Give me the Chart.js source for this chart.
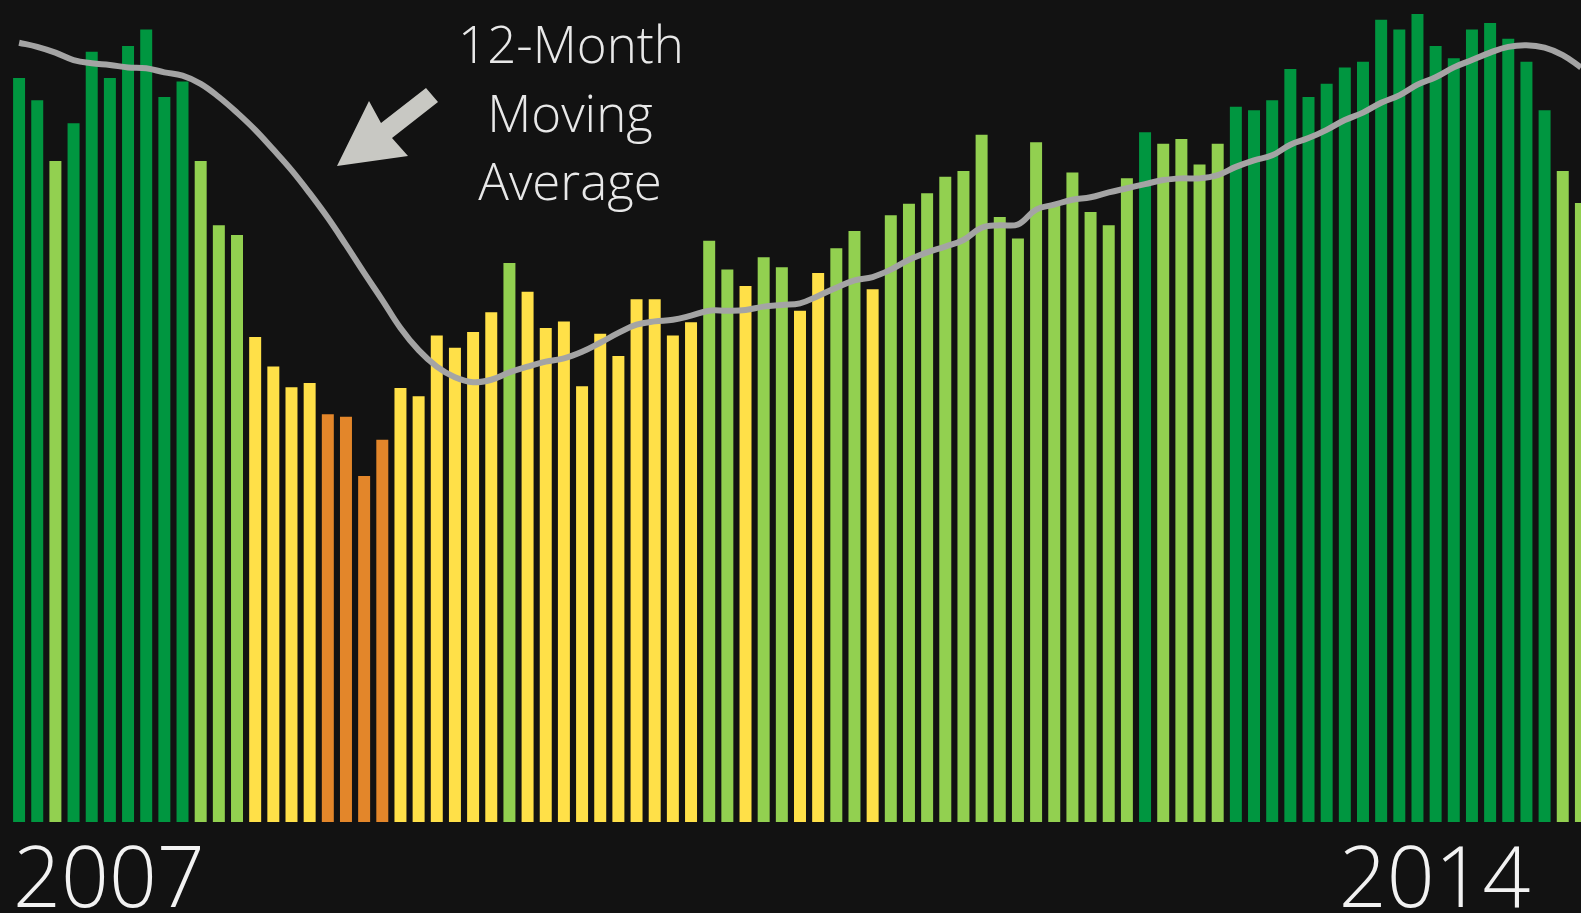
<!DOCTYPE html>
<html>
<head>
<meta charset="utf-8">
<script src="https://cdn.jsdelivr.net/npm/chart.js@4.4.1/dist/chart.umd.min.js"></script>
<style>
    html, body { margin: 0; padding: 0; background: #121212; overflow: hidden; }
    canvas { display: block; }
</style>
</head>
<body>
<canvas id="canvasDoThi" width="1600" height="913"></canvas>
<script>
// Du lieu (chi so hang thang, 0-100)
var barValues = [90.5, 87.8, 80.4, 85.0, 93.7, 90.5, 94.4, 96.4, 88.2, 90.1,
    80.4, 72.6, 71.4, 59.0, 55.4, 52.9, 53.4, 49.6, 49.3, 42.1,
    46.5, 52.8, 51.8, 59.2, 57.7, 59.6, 62.0, 68.0, 64.5, 60.1,
    60.9, 53.0, 59.4, 56.7, 63.6, 63.6, 59.2, 60.8, 70.7, 67.2,
    65.2, 68.7, 67.5, 62.2, 66.8, 69.8, 71.9, 64.8, 73.8, 75.2,
    76.5, 78.5, 79.2, 83.6, 73.6, 71.0, 82.7, 75.1, 79.0, 74.2,
    72.6, 78.3, 83.9, 82.5, 83.1, 80.0, 82.5, 87.0, 86.6, 87.8,
    91.6, 88.2, 89.8, 91.8, 92.5, 97.6, 96.4, 98.3, 94.4, 92.9,
    96.4, 97.2, 95.3, 92.5, 86.6, 79.2, 75.3];

var avgValues = [94.8, 94.3, 93.6, 92.7, 92.3, 92.1, 91.8, 91.7, 91.2, 90.8,
    89.8, 88.2, 86.3, 84.2, 81.8, 79.3, 76.5, 73.5, 70.2, 66.8,
    63.5, 60.1, 57.4, 55.4, 54.1, 53.5, 53.8, 54.7, 55.4, 56.0,
    56.4, 57.2, 58.3, 59.5, 60.5, 60.9, 61.1, 61.6, 62.2, 62.2,
    62.3, 62.7, 62.9, 63.1, 64.0, 65.0, 65.9, 66.3, 67.2, 68.4,
    69.3, 70.0, 70.8, 72.3, 72.6, 72.7, 74.5, 75.1, 75.7, 76.0,
    76.6, 77.1, 77.6, 78.1, 78.3, 78.3, 78.7, 79.7, 80.5, 81.1,
    82.4, 83.2, 84.2, 85.4, 86.3, 87.5, 88.4, 89.7, 90.6, 91.8,
    92.7, 93.6, 94.3, 94.5, 94.2, 93.3, 91.8];

var months = barValues.map(function (v, i) { return i + 1; });
var tickLabels = ['2007', '2014'];
var tickIndex = [5, 78];
var noteLines = ['12-Month', 'Moving', 'Average'];

// Nguong mau
var nguong = [83.75, 67.0, 50.5];
var mau = ['#009640', '#92d050', '#ffe048', '#e3862a'];

function MauCot(v) {
    for (var i = 0; i < nguong.length; i++) {
        if (v > nguong[i]) return mau[i];
    }
    return mau[3];
}

// Ghi chu + mui ten
var ghiChu = {
    id: 'ghiChu',
    afterDraw: function (chart) {
        var ctx = chart.ctx;
        ctx.save();
        ctx.fillStyle = '#e8e8e8';
        ctx.font = '300 51px "Open Sans"';
        ctx.textAlign = 'center';
        ctx.textBaseline = 'alphabetic';
        ctx.fillText(noteLines[0], 571, 63);
        ctx.fillText(noteLines[1], 570, 132);
        ctx.fillText(noteLines[2], 570, 200);

        ctx.fillStyle = '#c8c8c3';
        ctx.beginPath();
        ctx.moveTo(337, 166);
        ctx.lineTo(369, 101);
        ctx.lineTo(381, 123);
        ctx.lineTo(426, 88);
        ctx.lineTo(438, 102);
        ctx.lineTo(392, 138);
        ctx.lineTo(408, 156);
        ctx.closePath();
        ctx.fill();
        ctx.restore();
    }
};

function VeDoThi() {
    new Chart('canvasDoThi', {
        type: 'bar',
        data: {
            labels: months,
            datasets: [{
                type: 'line',
                data: avgValues,
                borderColor: '#a4a4a4',
                borderWidth: 6,
                pointRadius: 0,
                tension: 0.4,
                order: 1
            }, {
                type: 'bar',
                data: barValues,
                backgroundColor: barValues.map(MauCot),
                barPercentage: 0.66,
                categoryPercentage: 1,
                order: 2
            }]
        },
        options: {
            responsive: false,
            animation: false,
            devicePixelRatio: 1,
            layout: { padding: { left: 10, right: 10, top: 0, bottom: 0 } },
            plugins: {
                legend: { display: false },
                tooltip: { enabled: false }
            },
            scales: {
                x: {
                    grid: { display: false, drawTicks: false },
                    border: { display: false },
                    afterFit: function (scale) { scale.height = 91; },
                    ticks: {
                        autoSkip: false,
                        maxRotation: 0,
                        padding: 0,
                        labelOffset: -1,
                        color: '#f2f2f2',
                        font: { family: 'Open Sans', size: 84, weight: '300', lineHeight: '122px' },
                        callback: function (value, index) {
                            var k = tickIndex.indexOf(index);
                            return k >= 0 ? tickLabels[k] : '';
                        }
                    }
                },
                y: { display: false, min: 0, max: 100 }
            }
        },
        plugins: [ghiChu]
    });
}

VeDoThi();
</script>
</body>
</html>
